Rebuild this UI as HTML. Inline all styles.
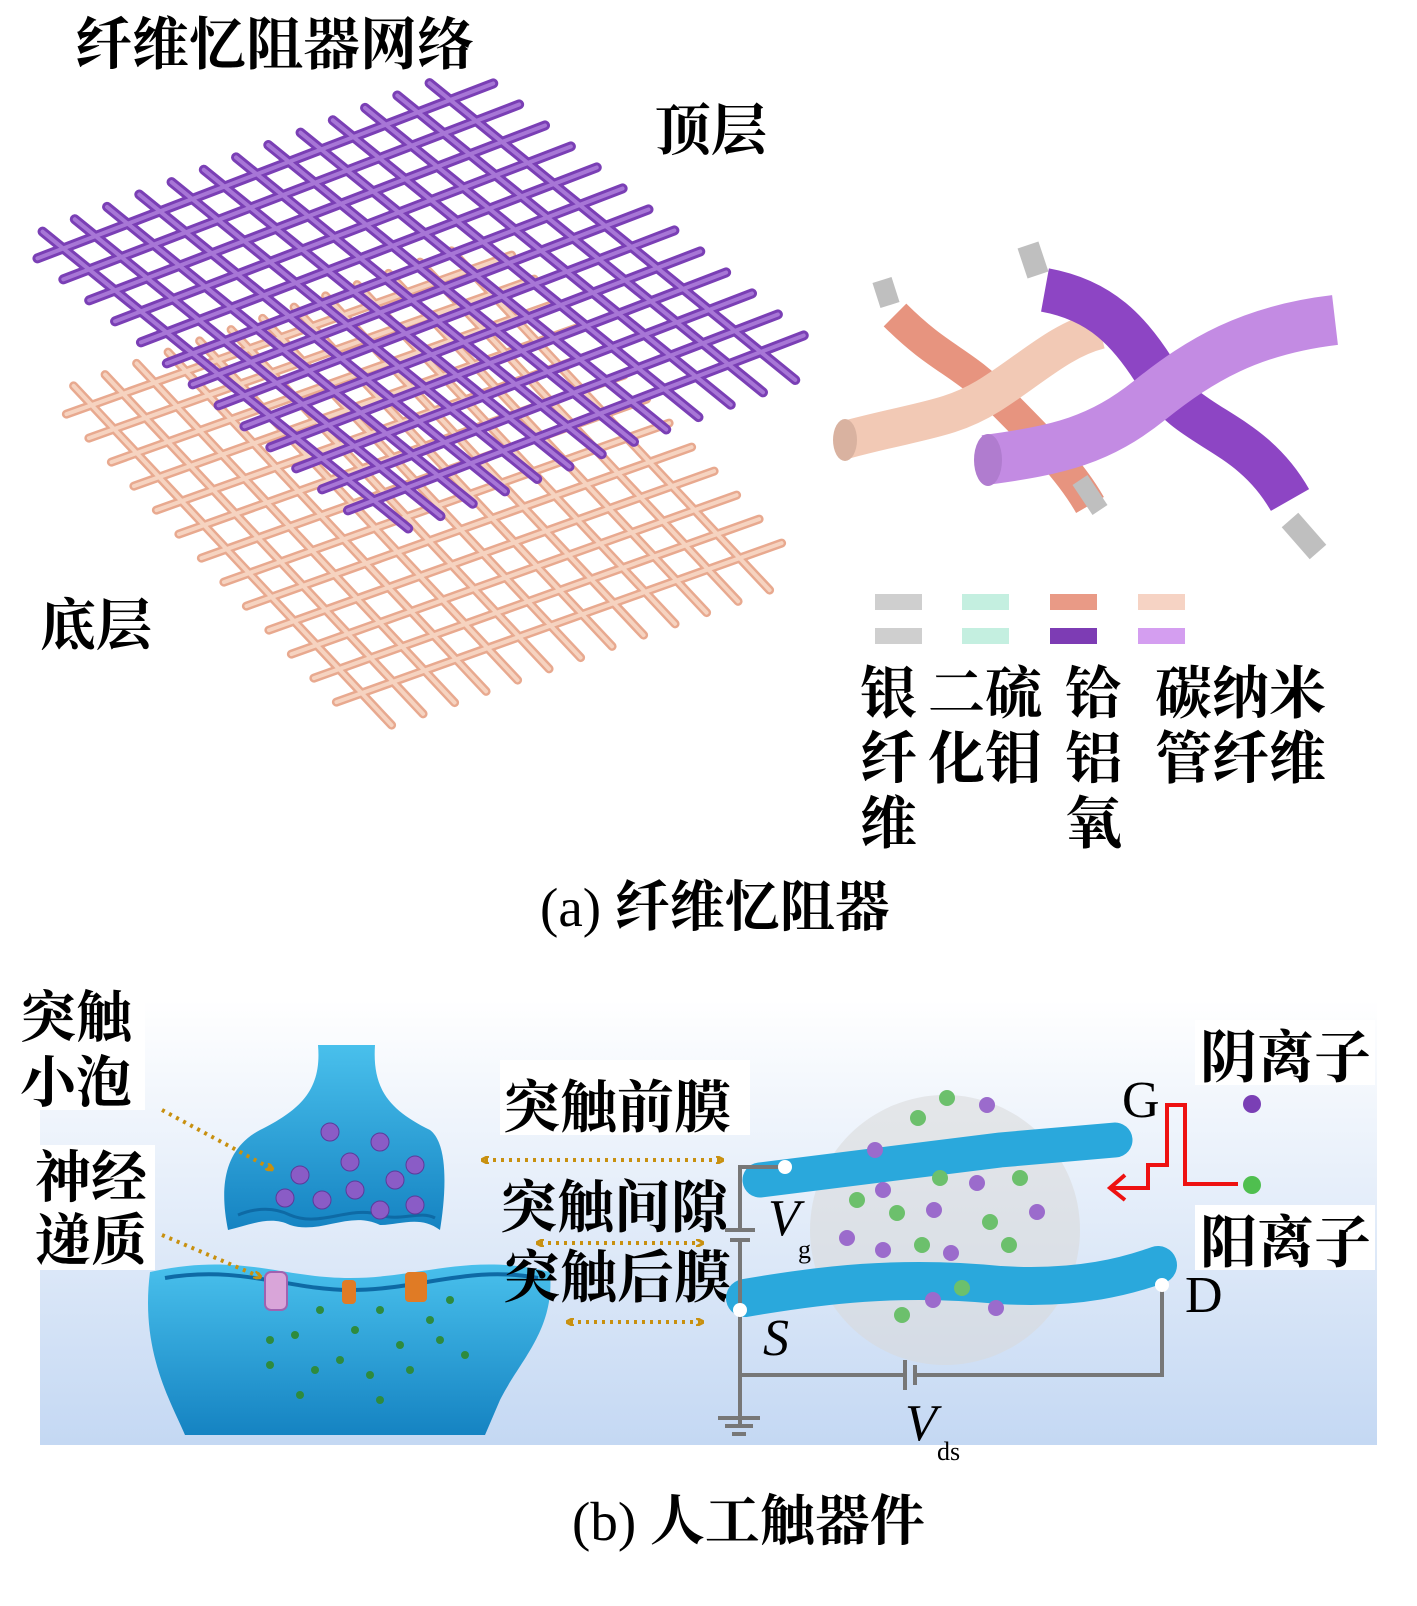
<!DOCTYPE html>
<html><head><meta charset="utf-8">
<style>
html,body{margin:0;padding:0;background:#fff;}
svg{display:block;}
text{font-family:"Liberation Serif","Noto Serif CJK SC","Noto Sans CJK SC",serif;fill:#000;}
.cj{font-family:"Noto Serif CJK SC","Noto Sans CJK SC",serif;font-weight:bold;}
</style></head><body>
<svg width="1417" height="1606" viewBox="0 0 1417 1606" xmlns="http://www.w3.org/2000/svg">
<defs>
<g id="grid" fill="none">
<path vector-effect="non-scaling-stroke" d="M0.03,-0.03V1.03M0.105,-0.03V1.03M0.18,-0.03V1.03M0.255,-0.03V1.03M0.33,-0.03V1.03M0.405,-0.03V1.03M0.48,-0.03V1.03M0.555,-0.03V1.03M0.63,-0.03V1.03M0.705,-0.03V1.03M0.78,-0.03V1.03M0.855,-0.03V1.03M0.93,-0.03V1.03"/>
<path vector-effect="non-scaling-stroke" d="M-0.03,0.03H1.03M-0.03,0.105H1.03M-0.03,0.18H1.03M-0.03,0.255H1.03M-0.03,0.33H1.03M-0.03,0.405H1.03M-0.03,0.48H1.03M-0.03,0.555H1.03M-0.03,0.63H1.03M-0.03,0.705H1.03M-0.03,0.78H1.03M-0.03,0.855H1.03M-0.03,0.93H1.03"/>
</g>
<linearGradient id="bg" x1="0" y1="0" x2="0" y2="1">
<stop offset="0" stop-color="#ffffff"/><stop offset="1" stop-color="#c4d8f3"/></linearGradient>
<linearGradient id="blue" x1="0" y1="0" x2="0" y2="1">
<stop offset="0" stop-color="#49c0ec"/><stop offset="1" stop-color="#1583c2"/></linearGradient>
<marker id="ah" markerWidth="8" markerHeight="8" refX="4" refY="4" orient="auto-start-reverse" markerUnits="userSpaceOnUse"><path d="M0,0 L8,4 L0,8" fill="none" stroke="#c8900f" stroke-width="3"/></marker>
</defs>

<!-- Panel a -->
<text x="75" y="64" font-size="57" class="cj">纤维忆阻器网络</text>
<text x="655" y="150" font-size="56" class="cj">顶层</text>
<text x="40" y="645" font-size="56" class="cj">底层</text>

<use href="#grid" transform="matrix(420,-150,300,320,70,400)" stroke="#e8a98f" stroke-width="9" stroke-linecap="round"/>
<use href="#grid" transform="matrix(420,-150,300,320,70,400)" stroke="#f6d3c0" stroke-width="4" stroke-linecap="round"/>
<use href="#grid" transform="matrix(430,-165,345,280,40,245)" stroke="#7a3fb5" stroke-width="10" stroke-linecap="round"/>
<use href="#grid" transform="matrix(430,-165,345,280,40,245)" stroke="#a776d6" stroke-width="4" stroke-linecap="round"/>

<!-- fibers -->
<g fill="none" stroke-linecap="butt">
<path d="M882,280 L890,305" stroke="#bfbfbf" stroke-width="20"/>
<path d="M895,315 C940,360 960,360 1000,400 S1070,470 1090,505" stroke="#e7947f" stroke-width="32"/>
<path d="M1080,480 L1100,510" stroke="#bfbfbf" stroke-width="18"/>
<path d="M845,440 C920,420 950,420 990,395 S1060,340 1100,330" stroke="#f2c9b5" stroke-width="38"/>
<path d="M1028,245 L1038,275" stroke="#bfbfbf" stroke-width="22"/>
<path d="M1290,520 L1318,552" stroke="#bfbfbf" stroke-width="22"/>
<path d="M1045,290 C1100,300 1130,330 1160,380 S1250,430 1290,500" stroke="#8d45c4" stroke-width="44"/>
<path d="M985,460 C1060,450 1100,440 1150,400 S1250,330 1335,320" stroke="#c38be3" stroke-width="50"/>
</g>
<ellipse cx="845" cy="440" rx="12" ry="21" fill="#d9b2a0"/>
<ellipse cx="988" cy="460" rx="14" ry="26" fill="#b07ccf"/>

<!-- legend -->
<rect x="875" y="594" width="47" height="16" fill="#cfcfcf"/><rect x="875" y="628" width="47" height="16" fill="#cfcfcf"/>
<rect x="962" y="594" width="47" height="16" fill="#c4efe0"/><rect x="962" y="628" width="47" height="16" fill="#c4efe0"/>
<rect x="1050" y="594" width="47" height="16" fill="#e99a86"/><rect x="1050" y="628" width="47" height="16" fill="#7d3cb4"/>
<rect x="1138" y="594" width="47" height="16" fill="#f6d3c4"/><rect x="1138" y="628" width="47" height="16" fill="#d49ef0"/>
<g font-size="57">
<text x="860" y="713" class="cj">银</text><text x="860" y="778" class="cj">纤</text><text x="860" y="843" class="cj">维</text>
<text x="928" y="713" class="cj">二硫</text><text x="928" y="778" class="cj">化钼</text>
<text x="1065" y="713" class="cj">铪</text><text x="1065" y="778" class="cj">铝</text><text x="1065" y="843" class="cj">氧</text>
<text x="1155" y="713" class="cj">碳纳米</text><text x="1155" y="778" class="cj">管纤维</text>
</g>
<text x="540" y="926" font-size="55">(a) <tspan class="cj">纤维忆阻器</tspan></text>

<!-- Panel b -->
<rect x="40" y="1000" width="1337" height="445" fill="url(#bg)"/>
<path d="M318,1045 L375,1045 C372,1090 390,1110 430,1130 C450,1145 445,1200 440,1230 C420,1215 400,1225 380,1225 C350,1210 320,1235 290,1225 C270,1215 250,1225 228,1230 C220,1190 222,1150 260,1130 C300,1110 322,1090 318,1045 Z" fill="url(#blue)"/>
<path d="M238,1215 C250,1210 270,1205 290,1215 C320,1228 350,1205 380,1215 C400,1222 420,1210 435,1218" fill="none" stroke="#0e6aa5" stroke-width="3"/>
<g fill="#8a5cc6" stroke="#5b3a9a" stroke-width="1">
<circle cx="330" cy="1132" r="9"/><circle cx="380" cy="1142" r="9"/><circle cx="300" cy="1175" r="9"/><circle cx="350" cy="1162" r="9"/><circle cx="395" cy="1180" r="9"/><circle cx="285" cy="1198" r="9"/><circle cx="322" cy="1200" r="9"/><circle cx="355" cy="1190" r="9"/><circle cx="415" cy="1165" r="9"/><circle cx="380" cy="1210" r="9"/><circle cx="415" cy="1205" r="9"/></g>
<path d="M150,1272 C240,1252 280,1278 350,1278 C420,1278 470,1252 550,1272 C555,1330 520,1360 500,1400 L485,1435 L185,1435 C170,1400 140,1350 150,1272 Z" fill="url(#blue)"/>
<path d="M165,1278 C240,1265 290,1290 350,1290 C420,1290 470,1265 538,1278" fill="none" stroke="#0e6aa5" stroke-width="4"/>
<rect x="265" y="1272" width="22" height="38" rx="6" fill="#d9a5d9" stroke="#a062b0" stroke-width="2"/>
<rect x="342" y="1280" width="14" height="24" rx="4" fill="#e07b25"/>
<rect x="405" y="1272" width="22" height="30" rx="4" fill="#e07b25"/>
<g fill="#2e8b3e">
<circle cx="270" cy="1340" r="4"/><circle cx="295" cy="1335" r="4"/><circle cx="320" cy="1310" r="4"/><circle cx="355" cy="1330" r="4"/><circle cx="380" cy="1310" r="4"/><circle cx="400" cy="1345" r="4"/><circle cx="430" cy="1320" r="4"/><circle cx="450" cy="1300" r="4"/><circle cx="465" cy="1355" r="4"/><circle cx="270" cy="1365" r="4"/><circle cx="315" cy="1370" r="4"/><circle cx="340" cy="1360" r="4"/><circle cx="370" cy="1375" r="4"/><circle cx="410" cy="1370" r="4"/><circle cx="300" cy="1395" r="4"/><circle cx="380" cy="1400" r="4"/><circle cx="440" cy="1340" r="4"/></g>
<rect x="15" y="985" width="130" height="125" fill="#fff"/>
<rect x="30" y="1145" width="125" height="125" fill="#fff"/>
<g font-size="56">
<text x="20" y="1037" class="cj">突触</text><text x="20" y="1102" class="cj">小泡</text>
<text x="35" y="1197" class="cj">神经</text><text x="35" y="1260" class="cj">递质</text>
</g>
<g fill="none" stroke="#c8900f" stroke-width="4" stroke-dasharray="3,5">
<path d="M162,1110 L270,1168" marker-end="url(#ah)"/>
<path d="M162,1235 L258,1276" marker-end="url(#ah)"/>
<path d="M485,1160 L720,1160" marker-start="url(#ah)" marker-end="url(#ah)"/>
<path d="M540,1243 L700,1243" marker-start="url(#ah)" marker-end="url(#ah)"/>
<path d="M570,1322 L700,1322" marker-start="url(#ah)" marker-end="url(#ah)"/>
</g>
<rect x="500" y="1060" width="250" height="75" fill="#fff"/>
<g font-size="57">
<text x="503" y="1127" class="cj">突触前膜</text>
<text x="500" y="1227" class="cj">突触间隙</text>
<text x="503" y="1297" class="cj">突触后膜</text>
</g>
<circle cx="945" cy="1230" r="135" fill="#d8d8d8" opacity="0.55"/>
<path d="M760,1180 L1000,1150 L1115,1140" stroke="#2aa8dc" stroke-width="35" fill="none" stroke-linecap="round"/>
<path d="M745,1298 C820,1285 900,1275 1000,1285 C1080,1290 1130,1275 1158,1265" stroke="#2aa8dc" stroke-width="38" fill="none" stroke-linecap="round"/>
<g stroke="#777" stroke-width="4" fill="none">
<path d="M785,1167 L740,1167 L740,1230"/>
<path d="M725,1230 H755 M730,1240 H750" />
<path d="M740,1240 L740,1425"/>
<path d="M740,1375 H905 M915,1375 H1162 V1285"/>
<path d="M905,1360 V1390 M915,1365 V1385"/>
<path d="M718,1418 H760 M725,1426 H753 M732,1434 H746"/>
</g>
<circle cx="785" cy="1167" r="7" fill="#fff"/><circle cx="740" cy="1310" r="7" fill="#fff"/><circle cx="1162" cy="1285" r="7" fill="#fff"/>
<g>
<circle cx="875" cy="1150" r="8" fill="#9b6bcc"/><circle cx="918" cy="1118" r="8" fill="#6cc06c"/><circle cx="947" cy="1098" r="8" fill="#6cc06c"/><circle cx="987" cy="1105" r="8" fill="#9b6bcc"/>
<circle cx="883" cy="1190" r="8" fill="#9b6bcc"/><circle cx="857" cy="1200" r="8" fill="#6cc06c"/><circle cx="940" cy="1178" r="8" fill="#6cc06c"/><circle cx="977" cy="1183" r="8" fill="#9b6bcc"/><circle cx="1020" cy="1178" r="8" fill="#6cc06c"/>
<circle cx="897" cy="1213" r="8" fill="#6cc06c"/><circle cx="934" cy="1210" r="8" fill="#9b6bcc"/><circle cx="990" cy="1222" r="8" fill="#6cc06c"/><circle cx="1037" cy="1212" r="8" fill="#9b6bcc"/>
<circle cx="847" cy="1238" r="8" fill="#9b6bcc"/><circle cx="883" cy="1250" r="8" fill="#9b6bcc"/><circle cx="922" cy="1245" r="8" fill="#6cc06c"/><circle cx="951" cy="1253" r="8" fill="#9b6bcc"/><circle cx="1009" cy="1245" r="8" fill="#6cc06c"/>
<circle cx="962" cy="1288" r="8" fill="#6cc06c"/><circle cx="933" cy="1300" r="8" fill="#9b6bcc"/><circle cx="902" cy="1315" r="8" fill="#6cc06c"/><circle cx="996" cy="1308" r="8" fill="#9b6bcc"/>
</g>
<path d="M1238,1184 H1185 V1105 H1167 V1165 H1148 V1188 H1112" stroke="#ee1111" stroke-width="4" fill="none"/>
<path d="M1125,1175 L1110,1188 L1125,1200" stroke="#ee1111" stroke-width="4" fill="none"/>
<circle cx="1252" cy="1104" r="9" fill="#7a3fb5"/><circle cx="1252" cy="1185" r="9" fill="#4fbf4f"/>
<rect x="1195" y="1020" width="180" height="65" fill="#fff"/>
<rect x="1195" y="1205" width="180" height="65" fill="#fff"/>
<g font-size="57"><text x="1200" y="1077" class="cj">阴离子</text><text x="1200" y="1262" class="cj">阳离子</text></g>
<text x="1122" y="1117" font-size="52">G</text>
<text x="1185" y="1312" font-size="52">D</text>
<text x="763" y="1355" font-size="52" font-style="italic">S</text>
<text x="768" y="1235" font-size="52" font-style="italic">V</text><text x="798" y="1258" font-size="26">g</text>
<text x="905" y="1440" font-size="52" font-style="italic">V</text><text x="937" y="1460" font-size="26">ds</text>
<text x="572" y="1540" font-size="55">(b) <tspan class="cj">人工触器件</tspan></text>
</svg>
</body></html>
